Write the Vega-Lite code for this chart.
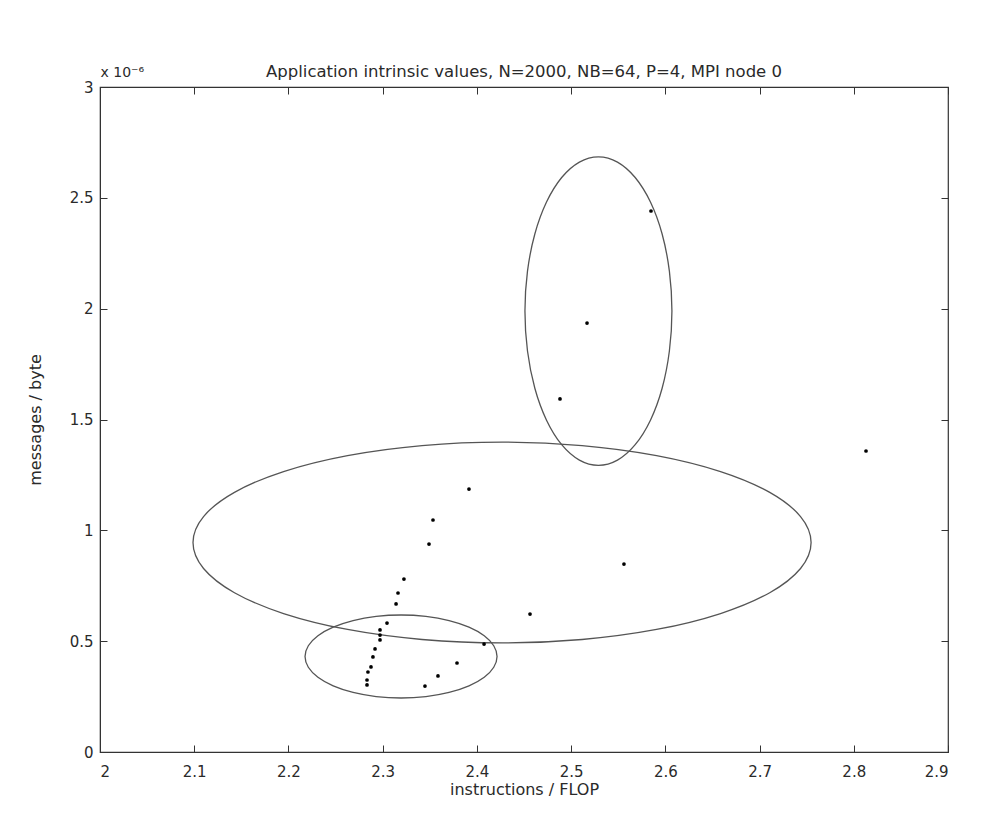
{
  "$schema": "https://vega.github.io/schema/vega-lite/v6.json",
  "width": 848,
  "height": 665,
  "autosize": {"type": "none"},
  "padding": {"left": 100, "top": 87, "right": 34, "bottom": 74},
  "background": "white",
  "title": {
    "text": "Application intrinsic values, N=2000, NB=64, P=4, MPI node 0",
    "frame": "group",
    "anchor": "middle",
    "offset": -15,
    "font": "DejaVu Sans",
    "fontSize": 16.5,
    "fontWeight": "normal",
    "color": "#2a2a2a"
  },
  "config": {
    "view": {"stroke": "#333", "strokeWidth": 1.2},
    "axis": {
      "grid": false,
      "zindex": 1,
      "domainColor": "#333",
      "tickColor": "#333",
      "labelColor": "#2a2a2a",
      "labelFont": "DejaVu Sans",
      "labelFontSize": 15,
      "titleFont": "DejaVu Sans",
      "titleFontSize": 16,
      "titleFontWeight": "normal",
      "titleColor": "#2a2a2a"
    }
  },
  "datasets": {
    "pts": [
      {"x": 2.5848, "y": 2.4406},
      {"x": 2.5169, "y": 1.9353},
      {"x": 2.4882, "y": 1.5925},
      {"x": 2.8130, "y": 1.3579},
      {"x": 2.3916, "y": 1.1864},
      {"x": 2.3534, "y": 1.0466},
      {"x": 2.3492, "y": 0.9383},
      {"x": 2.5561, "y": 0.8481},
      {"x": 2.3226, "y": 0.7804},
      {"x": 2.3163, "y": 0.7173},
      {"x": 2.3142, "y": 0.6677},
      {"x": 2.4564, "y": 0.6225},
      {"x": 2.3046, "y": 0.5819},
      {"x": 2.2972, "y": 0.5504},
      {"x": 2.2972, "y": 0.5278},
      {"x": 2.2972, "y": 0.5053},
      {"x": 2.2919, "y": 0.4647},
      {"x": 2.2897, "y": 0.4286},
      {"x": 2.2876, "y": 0.3835},
      {"x": 2.2844, "y": 0.3609},
      {"x": 2.2834, "y": 0.3248},
      {"x": 2.2834, "y": 0.3023},
      {"x": 2.4076, "y": 0.4872},
      {"x": 2.3789, "y": 0.4015},
      {"x": 2.3587, "y": 0.3429},
      {"x": 2.3449, "y": 0.2977}
    ],
    "ell": [
      {"g": "A", "t": 0, "x": 2.607, "y": 1.989},
      {"g": "A", "t": 15, "x": 2.6043, "y": 2.1691},
      {"g": "A", "t": 30, "x": 2.5966, "y": 2.337},
      {"g": "A", "t": 45, "x": 2.5842, "y": 2.4811},
      {"g": "A", "t": 60, "x": 2.568, "y": 2.5917},
      {"g": "A", "t": 75, "x": 2.5492, "y": 2.6613},
      {"g": "A", "t": 90, "x": 2.529, "y": 2.685},
      {"g": "A", "t": 105, "x": 2.5088, "y": 2.6613},
      {"g": "A", "t": 120, "x": 2.49, "y": 2.5917},
      {"g": "A", "t": 135, "x": 2.4739, "y": 2.4811},
      {"g": "A", "t": 150, "x": 2.4615, "y": 2.337},
      {"g": "A", "t": 165, "x": 2.4537, "y": 2.1691},
      {"g": "A", "t": 180, "x": 2.451, "y": 1.989},
      {"g": "A", "t": 195, "x": 2.4537, "y": 1.8089},
      {"g": "A", "t": 210, "x": 2.4615, "y": 1.641},
      {"g": "A", "t": 225, "x": 2.4739, "y": 1.4969},
      {"g": "A", "t": 240, "x": 2.49, "y": 1.3863},
      {"g": "A", "t": 255, "x": 2.5088, "y": 1.3167},
      {"g": "A", "t": 270, "x": 2.529, "y": 1.293},
      {"g": "A", "t": 285, "x": 2.5492, "y": 1.3167},
      {"g": "A", "t": 300, "x": 2.568, "y": 1.3863},
      {"g": "A", "t": 315, "x": 2.5842, "y": 1.4969},
      {"g": "A", "t": 330, "x": 2.5966, "y": 1.641},
      {"g": "A", "t": 345, "x": 2.6043, "y": 1.8089},
      {"g": "B", "t": 0, "x": 2.7547, "y": 0.945},
      {"g": "B", "t": 15, "x": 2.7435, "y": 1.0622},
      {"g": "B", "t": 30, "x": 2.7108, "y": 1.1715},
      {"g": "B", "t": 45, "x": 2.6586, "y": 1.2653},
      {"g": "B", "t": 60, "x": 2.5907, "y": 1.3373},
      {"g": "B", "t": 75, "x": 2.5116, "y": 1.3826},
      {"g": "B", "t": 90, "x": 2.4267, "y": 1.398},
      {"g": "B", "t": 105, "x": 2.3418, "y": 1.3826},
      {"g": "B", "t": 120, "x": 2.2627, "y": 1.3373},
      {"g": "B", "t": 135, "x": 2.1948, "y": 1.2653},
      {"g": "B", "t": 150, "x": 2.1427, "y": 1.1715},
      {"g": "B", "t": 165, "x": 2.1099, "y": 1.0622},
      {"g": "B", "t": 180, "x": 2.0987, "y": 0.945},
      {"g": "B", "t": 195, "x": 2.1099, "y": 0.8278},
      {"g": "B", "t": 210, "x": 2.1427, "y": 0.7185},
      {"g": "B", "t": 225, "x": 2.1948, "y": 0.6247},
      {"g": "B", "t": 240, "x": 2.2627, "y": 0.5527},
      {"g": "B", "t": 255, "x": 2.3418, "y": 0.5075},
      {"g": "B", "t": 270, "x": 2.4267, "y": 0.492},
      {"g": "B", "t": 285, "x": 2.5116, "y": 0.5075},
      {"g": "B", "t": 300, "x": 2.5907, "y": 0.5527},
      {"g": "B", "t": 315, "x": 2.6586, "y": 0.6247},
      {"g": "B", "t": 330, "x": 2.7108, "y": 0.7185},
      {"g": "B", "t": 345, "x": 2.7435, "y": 0.8278},
      {"g": "C", "t": 0, "x": 2.4214, "y": 0.4308},
      {"g": "C", "t": 15, "x": 2.4179, "y": 0.4793},
      {"g": "C", "t": 30, "x": 2.4078, "y": 0.5244},
      {"g": "C", "t": 45, "x": 2.3916, "y": 0.5632},
      {"g": "C", "t": 60, "x": 2.3705, "y": 0.5929},
      {"g": "C", "t": 75, "x": 2.3459, "y": 0.6116},
      {"g": "C", "t": 90, "x": 2.3195, "y": 0.618},
      {"g": "C", "t": 105, "x": 2.2931, "y": 0.6116},
      {"g": "C", "t": 120, "x": 2.2686, "y": 0.5929},
      {"g": "C", "t": 135, "x": 2.2475, "y": 0.5632},
      {"g": "C", "t": 150, "x": 2.2313, "y": 0.5244},
      {"g": "C", "t": 165, "x": 2.2211, "y": 0.4793},
      {"g": "C", "t": 180, "x": 2.2176, "y": 0.4308},
      {"g": "C", "t": 195, "x": 2.2211, "y": 0.3824},
      {"g": "C", "t": 210, "x": 2.2313, "y": 0.3372},
      {"g": "C", "t": 225, "x": 2.2475, "y": 0.2984},
      {"g": "C", "t": 240, "x": 2.2686, "y": 0.2687},
      {"g": "C", "t": 255, "x": 2.2931, "y": 0.25},
      {"g": "C", "t": 270, "x": 2.3195, "y": 0.2436},
      {"g": "C", "t": 285, "x": 2.3459, "y": 0.25},
      {"g": "C", "t": 300, "x": 2.3705, "y": 0.2687},
      {"g": "C", "t": 315, "x": 2.3916, "y": 0.2984},
      {"g": "C", "t": 330, "x": 2.4078, "y": 0.3372},
      {"g": "C", "t": 345, "x": 2.4179, "y": 0.3824}
    ]
  },
  "resolve": {"axis": {"x": "independent", "y": "independent"}},
  "layer": [
    {
      "data": {"name": "ell"},
      "mark": {"type": "line", "interpolate": "cardinal-closed", "color": "#555", "strokeWidth": 1.3},
      "encoding": {
        "x": {
          "field": "x", "type": "quantitative",
          "scale": {"domain": [2, 2.9], "nice": false, "zero": false},
          "axis": {
            "values": [2, 2.1, 2.2, 2.3, 2.4, 2.5, 2.6, 2.7, 2.8, 2.9],
            "format": "~g",
            "tickSize": -7,
            "labelPadding": 19,
            "title": "instructions / FLOP",
            "titlePadding": 2
          }
        },
        "y": {
          "field": "y", "type": "quantitative",
          "scale": {"domain": [0, 3], "nice": false, "zero": false},
          "axis": {
            "values": [0, 0.5, 1, 1.5, 2, 2.5, 3],
            "format": "~g",
            "tickSize": -7,
            "labelPadding": 14,
            "title": "messages / byte",
            "titlePadding": 26
          }
        },
        "detail": {"field": "g"},
        "order": {"field": "t", "type": "quantitative"}
      }
    },
    {
      "data": {"name": "pts"},
      "mark": {"type": "point", "filled": true, "color": "#000", "size": 14, "opacity": 1},
      "encoding": {
        "x": {
          "field": "x", "type": "quantitative",
          "axis": {
            "orient": "top",
            "values": [2, 2.1, 2.2, 2.3, 2.4, 2.5, 2.6, 2.7, 2.8, 2.9],
            "labels": false,
            "domain": false,
            "tickSize": -7,
            "title": "x 10⁻⁶",
            "titleAnchor": "start",
            "titleAlign": "left",
            "titlePadding": 7,
            "titleFontSize": 14
          }
        },
        "y": {
          "field": "y", "type": "quantitative",
          "axis": {
            "orient": "right",
            "values": [0, 0.5, 1, 1.5, 2, 2.5, 3],
            "labels": false,
            "domain": false,
            "tickSize": -7,
            "title": null
          }
        }
      }
    }
  ]
}
